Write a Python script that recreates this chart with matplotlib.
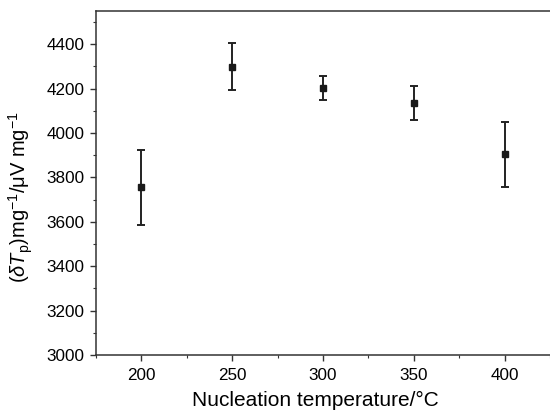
import matplotlib
matplotlib.use("Agg")
import matplotlib.pyplot as plt
from matplotlib.ticker import MultipleLocator

temperature = [200, 250, 300, 350, 400]
dTp = [3755, 4299, 4203, 4136, 3905]
err = [170, 106, 52, 77, 146]

plt.rcParams['font.family'] = ['Liberation Sans', 'DejaVu Sans']
plt.rcParams['mathtext.fontset'] = 'custom'
plt.rcParams['mathtext.rm'] = 'Liberation Sans'
plt.rcParams['mathtext.it'] = 'Liberation Sans:italic'

fig = plt.figure(figsize=(5.5, 4.12), dpi=100)
ax = fig.add_axes([96/550, 1-355/412, 454/550, 344/412])

ax.errorbar(temperature, dTp, yerr=err, fmt='s', color='#1a1a1a', ms=5,
            ecolor='#222222', elinewidth=1.4, capsize=3, capthick=1.4)

ax.set_xlim(175, 425)
ax.set_ylim(3000, 4550)
ax.xaxis.set_major_locator(MultipleLocator(50))
ax.xaxis.set_minor_locator(MultipleLocator(25))
ax.yaxis.set_major_locator(MultipleLocator(200))
ax.yaxis.set_minor_locator(MultipleLocator(100))

for s in ax.spines.values():
    s.set_color('#333333')
    s.set_linewidth(1.1)
ax.spines['right'].set_visible(False)

ax.tick_params(which='major', direction='out', length=4.5, width=1, color='#333333',
               labelsize=12.3)
ax.tick_params(axis='x', which='major', pad=5)
ax.tick_params(axis='y', which='major', pad=4)
ax.tick_params(which='minor', direction='out', length=2.5, width=0.8, color='#333333')
ax.tick_params(axis='y', which='both', right=False)
ax.tick_params(axis='x', which='both', top=False)

ax.set_xlabel('Nucleation temperature/°C', fontsize=15)
ax.set_ylabel(r'$(\delta T_{\mathrm{p}})\mathrm{mg^{-1}/\mu V\ mg^{-1}}$', fontsize=14.5)
ax.xaxis.set_label_coords((315 - 96) / 454, -(400 - 355) / 344)
ax.yaxis.set_label_coords(-(96 - 21) / 454, (355 - 197) / 344)
ax.xaxis.label.set_va('center')
ax.yaxis.label.set_va('center')

fig.savefig('out.png', dpi=100)
